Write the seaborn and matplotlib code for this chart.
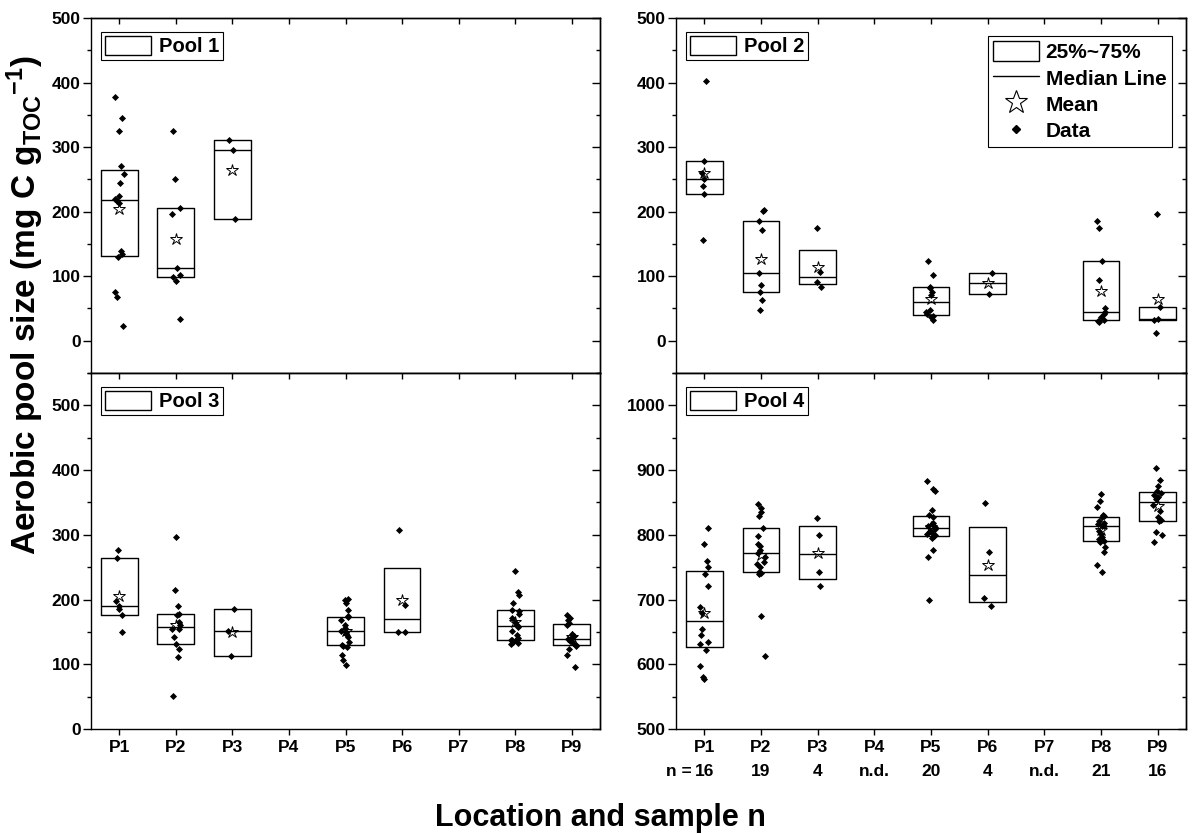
import numpy as np
import pandas as pd
import matplotlib
matplotlib.use("Agg")
import matplotlib.pyplot as plt
import matplotlib.transforms as mtransforms
from matplotlib.lines import Line2D
from matplotlib.patches import Rectangle
from matplotlib.ticker import MultipleLocator
import seaborn as sns

# ---------------------------------------------------------------- data
locations = ["P1", "P2", "P3", "P4", "P5", "P6", "P7", "P8", "P9"]

pool1_P1 = [378, 345, 325, 271, 258, 245, 224, 219, 216, 214, 139, 134, 130, 76, 68, 23]
pool1_P2 = [325, 251, 206, 197, 113, 102, 99, 93, 34]
pool1_P3 = [311, 295, 188]

pool2_P1 = [402, 278, 260, 250, 240, 228, 156]
pool2_P2 = [203, 201, 185, 172, 105, 87, 75, 63, 48]
pool2_P3 = [174, 106, 91, 84]
pool2_P5 = [124, 102, 84, 81, 75, 71, 48, 45, 41, 39, 36, 32]
pool2_P6 = [105, 73]
pool2_P8 = [186, 174, 124, 94, 50, 45, 41, 37, 32, 30, 29]
pool2_P9 = [196, 52, 33, 32, 12]

pool3_P1 = [277, 264, 197, 189.5, 185, 176, 150]
pool3_P2 = [296, 215, 190, 177, 176, 165, 160, 155, 154, 142, 132, 123, 111, 51]
pool3_P3 = [186, 151, 113]
pool3_P5 = [201, 199, 194, 184, 174.5, 173, 168, 160, 156, 152, 150, 147, 142, 135,
            130, 128.5, 127, 115, 107, 99.5]
pool3_P6 = [307, 191, 150, 150]
pool3_P8 = [244, 212, 207, 195, 184.5, 182, 178, 172, 165, 161, 157, 152, 145, 140,
            138, 137.5, 137, 135, 133, 131]
pool3_P9 = [176, 172, 168, 164, 161, 147, 143, 140, 139, 136, 133, 130.5, 128, 124, 114, 96]

pool4_P1 = [811, 786, 760, 750, 739, 721, 689, 679, 654, 645, 634, 632, 622, 597, 580, 577]
pool4_P2 = [848, 841, 836, 829, 811, 798, 786, 783, 776, 772, 765, 758, 755, 750, 743,
            741, 739, 675, 613]
pool4_P3 = [826, 800, 742, 721]
pool4_P5 = [883, 871, 867, 839, 830, 827, 819, 817, 814, 812, 808.5, 806, 803, 801, 799,
            797.5, 795, 777, 765, 700]
pool4_P6 = [849, 774, 702, 690]
pool4_P8 = [863, 852, 843, 831, 829, 827, 822, 819, 816, 814, 813, 806, 801, 797, 793,
            791, 789, 781, 773, 753, 742]
pool4_P9 = [903, 885, 875, 868, 864, 862, 858, 855, 846, 837, 827, 823, 821, 804, 799, 789]

pools = {
    "Pool 1": {"P1": pool1_P1, "P2": pool1_P2, "P3": pool1_P3},
    "Pool 2": {"P1": pool2_P1, "P2": pool2_P2, "P3": pool2_P3, "P5": pool2_P5,
               "P6": pool2_P6, "P8": pool2_P8, "P9": pool2_P9},
    "Pool 3": {"P1": pool3_P1, "P2": pool3_P2, "P3": pool3_P3, "P5": pool3_P5,
               "P6": pool3_P6, "P8": pool3_P8, "P9": pool3_P9},
    "Pool 4": {"P1": pool4_P1, "P2": pool4_P2, "P3": pool4_P3, "P5": pool4_P5,
               "P6": pool4_P6, "P8": pool4_P8, "P9": pool4_P9},
}
y_limits = {"Pool 1": (-50, 500), "Pool 2": (-50, 500), "Pool 3": (0, 550), "Pool 4": (500, 1050)}
y_major = {"Pool 1": range(0, 501, 100), "Pool 2": range(0, 501, 100),
           "Pool 3": range(0, 501, 100), "Pool 4": range(500, 1001, 100)}

rows = [(pool, loc, v) for pool, groups in pools.items() for loc, vals in groups.items() for v in vals]
df = pd.DataFrame(rows, columns=["pool", "location", "value"])

# ---------------------------------------------------------------- style
sns.set_theme(style="ticks")
plt.rcParams["font.family"] = ["Liberation Sans", "DejaVu Sans"]
plt.rcParams["font.weight"] = "bold"
plt.rcParams["mathtext.fontset"] = "custom"
plt.rcParams["mathtext.rm"] = "Liberation Sans:bold"
plt.rcParams["mathtext.bf"] = "Liberation Sans:bold"
plt.rcParams["mathtext.it"] = "Liberation Sans:bold"
plt.rcParams["axes.linewidth"] = 1.0
plt.rcParams["axes.edgecolor"] = "black"
plt.rcParams["text.color"] = "black"
plt.rcParams["axes.labelcolor"] = "black"
plt.rcParams["xtick.color"] = "black"
plt.rcParams["ytick.color"] = "black"
plt.rcParams["xtick.labelcolor"] = "black"
plt.rcParams["ytick.labelcolor"] = "black"
np.random.seed(7)

W, H = 1192, 834
fig = plt.figure(figsize=(W / 100, H / 100), dpi=100)


def frame(x0, y0, x1, y1):
    return [x0 / W, 1 - y1 / H, (x1 - x0) / W, (y1 - y0) / H]


axes = {
    "Pool 1": fig.add_axes(frame(91, 18, 600, 373)),
    "Pool 2": fig.add_axes(frame(676, 18, 1186, 373)),
    "Pool 3": fig.add_axes(frame(91, 373, 600, 729)),
    "Pool 4": fig.add_axes(frame(676, 373, 1186, 729)),
}


def box_stats(values):
    q1, med, q3 = np.percentile(values, [25, 50, 75], method="averaged_inverted_cdf")
    return dict(med=med, q1=q1, q3=q3, whislo=q1, whishi=q3, fliers=[])


TICK_SIZE = 12.5
legend_font = dict(size=14.5, weight="bold")


def pool_key(ax, name):
    ax_w = ax.get_position().width * W
    ax_h = ax.get_position().height * H
    leg = ax.legend(handles=[Rectangle((0, 0), 1, 1, facecolor="white", edgecolor="black", lw=1.0)],
                    labels=[name], loc="upper left",
                    bbox_to_anchor=(10 / ax_w, 1 - 13.7 / ax_h), borderaxespad=0,
                    frameon=True, fancybox=False, edgecolor="black", framealpha=1,
                    handlelength=2.3, handleheight=1.1, handletextpad=0.4,
                    borderpad=0.19, prop=legend_font)
    leg.get_frame().set_linewidth(0.8)
    return leg


for pool, ax in axes.items():
    sub = df[df["pool"] == pool]
    groups = pools[pool]

    # interquartile boxes with median line
    pos = [locations.index(k) for k in groups]
    ax.bxp([box_stats(v) for v in groups.values()], positions=pos, widths=0.65,
           showcaps=False, showfliers=False, manage_ticks=False,
           boxprops=dict(color="black", linewidth=1.0),
           medianprops=dict(color="black", linewidth=1.0),
           whiskerprops=dict(linewidth=0))

    # mean (open star)
    sns.pointplot(data=sub, x="location", y="value", order=locations, estimator="mean",
                  errorbar=None, linestyle="none", marker="*", markersize=9,
                  markerfacecolor="none", markeredgecolor="black", markeredgewidth=0.7,
                  color="black", ax=ax, zorder=3)

    # individual samples
    sns.stripplot(data=sub, x="location", y="value", order=locations, jitter=0.08,
                  marker="D", size=3.6, color="black", linewidth=0, ax=ax, zorder=4)

    ax.set_xlim(-0.5, 8.5)
    ax.set_ylim(*y_limits[pool])
    ax.set_xlabel("")
    ax.set_ylabel("")
    ax.set_yticks(list(y_major[pool]))
    ax.yaxis.set_minor_locator(MultipleLocator(50))
    ax.tick_params(axis="y", which="major", direction="out", length=5.5, width=1.0, pad=2,
                   labelsize=TICK_SIZE)
    ax.tick_params(axis="y", which="minor", direction="out", length=3, width=1.0)
    ax.tick_params(axis="x", which="major", direction="out", length=4, width=1.0, pad=4,
                   labelsize=TICK_SIZE)
    for lab in ax.get_yticklabels():
        lab.set_fontweight("bold")

    ax.set_xticks(range(len(locations)))
    if pool in ("Pool 3", "Pool 4"):
        ax.set_xticklabels(locations, fontweight="bold")
    else:
        ax.set_xticklabels([])

    # inward ticks on the top and right edges
    top = ax.secondary_xaxis("top")
    top.set_xticks(range(len(locations)), labels=[""] * len(locations))
    top.tick_params(direction="in", length=4, width=1.0)
    right = ax.secondary_yaxis("right")
    right.set_yticks(list(y_major[pool]), labels=[""] * len(y_major[pool]))
    right.yaxis.set_minor_locator(MultipleLocator(50))
    right.tick_params(which="major", direction="in", length=5.5, width=1.0)
    right.tick_params(which="minor", direction="in", length=3, width=1.0)

    pool_key(ax, pool)

# symbol key in the Pool 2 panel
ax2 = axes["Pool 2"]
ax_w = ax2.get_position().width * W
ax_h = ax2.get_position().height * H
key_handles = [
    Rectangle((0, 0), 1, 1, facecolor="white", edgecolor="black", lw=1.0),
    Line2D([], [], color="black", lw=1.0),
    Line2D([], [], marker="*", ls="none", markersize=17, markerfacecolor="none",
           markeredgecolor="black", markeredgewidth=0.8),
    Line2D([], [], marker="D", ls="none", markersize=3.6, color="black"),
]
key = ax2.legend(handles=key_handles, labels=["25%~75%", "Median Line", "Mean", "Data"],
                 loc="upper right", bbox_to_anchor=(1 - 14.3 / ax_w, 1 - 18 / ax_h),
                 borderaxespad=0, frameon=True, fancybox=False, edgecolor="black",
                 framealpha=1, handlelength=2.2, handleheight=1.09, handletextpad=0.32,
                 labelspacing=0.25, borderpad=0.26, prop=dict(size=15, weight="bold"))
key.get_frame().set_linewidth(0.8)
ax2.add_artist(key)
pool_key(ax2, "Pool 2")

# sample counts under the Pool 4 panel
ax4 = axes["Pool 4"]
trans = mtransforms.blended_transform_factory(ax4.transData, fig.transFigure)
n_labels = [str(len(pools["Pool 4"][loc])) if loc in pools["Pool 4"] else "n.d." for loc in locations]
y_n = 1 - 771 / H
for i, lab in enumerate(n_labels):
    ax4.text(i, y_n, lab, transform=trans, ha="center", va="center", fontsize=TICK_SIZE,
             fontweight="bold")
ax4.annotate("n =", xy=(0, y_n), xycoords=trans, xytext=(-9, 0), textcoords="offset points",
             ha="right", va="center", fontsize=TICK_SIZE, fontweight="bold")

fig.text(25 / W, 1 - 305 / H, r"Aerobic pool size (mg C g$_{\mathbf{TOC}}$$^{\mathbf{-1}}$)",
         rotation=90, ha="center", va="center", fontsize=24, fontweight="bold")
fig.text(600 / W, 1 - 818 / H, "Location and sample n", ha="center", va="center",
         fontsize=22, fontweight="bold")

fig.savefig("out.png", dpi=100)
